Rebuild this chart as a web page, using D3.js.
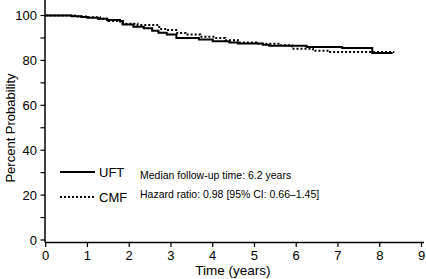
<!DOCTYPE html>
<html>
<head>
<meta charset="utf-8">
<script src="https://cdn.jsdelivr.net/npm/d3@7"></script>
<style>
  body { margin: 0; background: #fff; }
  svg { display: block; font-family: "Liberation Sans", Arial, sans-serif; }
</style>
</head>
<body>
<div id="chart"></div>
<script>
// Kaplan-Meier style step data
var uftTime = [0, 0.62, 0.85, 1.0, 1.25, 1.47, 1.78, 1.85, 2.1, 2.35, 2.55, 2.7, 2.9, 3.13, 3.67, 4.0, 4.4, 4.6, 5.2, 5.35, 6.25, 7.1, 7.82, 8.31];
var uftProb = [100, 99.7, 99.3, 99, 98.5, 98, 97.6, 96, 95, 94.3, 93.2, 92.3, 91.5, 90, 89.3, 88.5, 88, 87.5, 87, 86.5, 86, 85.5, 83.3, 83.3];
var cmfTime = [0, 0.7, 1.0, 1.3, 1.5, 1.75, 1.8, 2.2, 2.72, 2.9, 3.15, 3.35, 3.7, 4.05, 4.3, 4.6, 5.05, 5.6, 5.9, 6.4, 6.75, 8.35];
var cmfProb = [100, 99.6, 99.2, 98.5, 97.5, 97.2, 96.3, 95.8, 94, 93.5, 92.2, 91.5, 90.5, 90, 89, 88, 87.4, 86.7, 85.2, 84.3, 83.7, 83.7];

var xTicks = [0, 1, 2, 3, 4, 5, 6, 7, 8, 9];
var yTicks = [0, 20, 40, 60, 80, 100];
var yMinorTicks = [10, 30, 50, 70, 90];
var seriesNames = ["UFT", "CMF"];
var notes = ["Median follow-up time: 6.2 years", "Hazard ratio: 0.98 [95% CI: 0.66\u20131.45]"];

function init() {
    var w = 426, h = 279;

    var svg = d3.select("#chart")
        .append("svg")
        .attr("width", w)
        .attr("height", h);

    var x = d3.scaleLinear().domain([0, 9]).range([45.7, 421.5]);
    var y = d3.scaleLinear().domain([0, 100]).range([240, 15.5]);
    var axisY = 242.5, axisX = 45;

    // axes lines
    svg.append("line")
        .attr("x1", axisX).attr("x2", 424)
        .attr("y1", axisY).attr("y2", axisY)
        .attr("stroke", "#000").attr("stroke-width", 1.5);
    svg.append("line")
        .attr("x1", axisX).attr("x2", axisX)
        .attr("y1", 0).attr("y2", axisY)
        .attr("stroke", "#000").attr("stroke-width", 1.5);

    // x ticks
    svg.selectAll(".xtick")
        .data(xTicks)
        .enter()
        .append("line")
        .attr("x1", d => x(d)).attr("x2", d => x(d))
        .attr("y1", axisY).attr("y2", axisY + 4.5)
        .attr("stroke", "#000").attr("stroke-width", 1.2);
    svg.selectAll(".xlab")
        .data(xTicks)
        .enter()
        .append("text")
        .attr("x", d => x(d))
        .attr("y", 260)
        .attr("text-anchor", "middle")
        .style("font-size", "13px")
        .text(d => d);

    // y ticks
    svg.selectAll(".ytick")
        .data(yTicks.concat(yMinorTicks))
        .enter()
        .append("line")
        .attr("x1", axisX - 4.5).attr("x2", axisX)
        .attr("y1", d => y(d)).attr("y2", d => y(d))
        .attr("stroke", "#000").attr("stroke-width", 1.2);
    svg.selectAll(".ylab")
        .data(yTicks)
        .enter()
        .append("text")
        .attr("x", 37)
        .attr("y", d => y(d))
        .attr("dy", "0.35em")
        .attr("text-anchor", "end")
        .style("font-size", "13px")
        .text(d => d);

    // axis titles
    svg.append("text")
        .attr("x", 233)
        .attr("y", 275)
        .attr("text-anchor", "middle")
        .style("font-size", "13.5px")
        .text("Time (years)");
    svg.append("text")
        .attr("transform", "translate(15,128) rotate(-90)")
        .attr("text-anchor", "middle")
        .style("font-size", "13px")
        .text("Percent Probability");

    // curves
    var line = d3.line()
        .x(d => x(d[0]))
        .y(d => y(d[1]))
        .curve(d3.curveStepAfter);

    svg.append("path")
        .datum(d3.zip(uftTime, uftProb))
        .attr("d", line)
        .attr("fill", "none")
        .attr("stroke", "#000")
        .attr("stroke-width", 2);

    svg.append("path")
        .datum(d3.zip(cmfTime, cmfProb))
        .attr("d", line)
        .attr("fill", "none")
        .attr("stroke", "#000")
        .attr("stroke-width", 2)
        .attr("stroke-dasharray", "2,2");

    // legend
    var legY = [172, 197];
    svg.selectAll(".legline")
        .data(seriesNames)
        .enter()
        .append("line")
        .attr("x1", 60).attr("x2", 95)
        .attr("y1", (d, i) => legY[i]).attr("y2", (d, i) => legY[i])
        .attr("stroke", "#000")
        .attr("stroke-width", 2)
        .attr("stroke-dasharray", (d, i) => i == 1 ? "2,2" : null);
    svg.selectAll(".legtext")
        .data(seriesNames)
        .enter()
        .append("text")
        .attr("x", 99)
        .attr("y", (d, i) => legY[i] + 5)
        .style("font-size", "13px")
        .text(d => d);

    svg.selectAll(".note")
        .data(notes)
        .enter()
        .append("text")
        .attr("x", 140)
        .attr("y", (d, i) => 179 + i * 19)
        .style("font-size", "10.5px")
        .text(d => d);
}

window.onload = init;
</script>
</body>
</html>
